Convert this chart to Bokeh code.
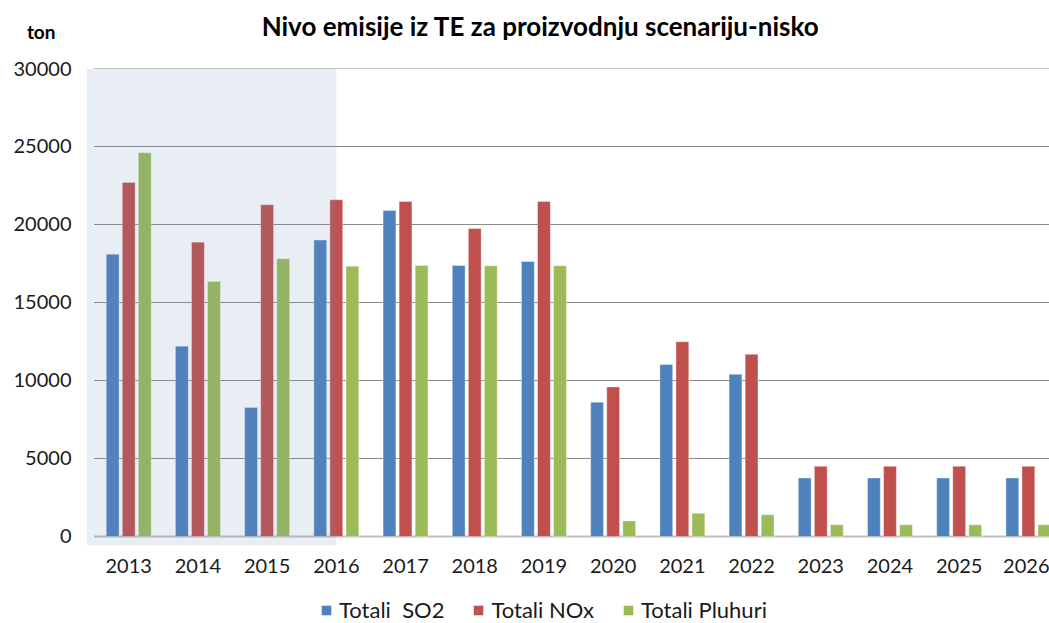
from bokeh.plotting import figure
from bokeh.models import (Range1d, FixedTicker, BoxAnnotation, Legend, LegendItem,
                          ColumnDataSource)
from bokeh.layouts import column
from bokeh.embed import file_html
from bokeh.resources import INLINE
from bokeh.core.properties import value

years = ["2013", "2014", "2015", "2016", "2017", "2018", "2019",
         "2020", "2021", "2022", "2023", "2024", "2025", "2026"]
so2 = [18100, 12200, 8270, 19000, 20900, 17370, 17630,
       8610, 11020, 10400, 3750, 3750, 3750, 3750]
nox = [22700, 18870, 21260, 21580, 21470, 19740, 21470,
       9590, 12490, 11680, 4500, 4500, 4500, 4500]
pluhuri = [24600, 16350, 17800, 17330, 17370, 17350, 17350,
           1000, 1490, 1390, 750, 750, 750, 750]
series_names = ["Totali  SO2", "Totali NOx", "Totali Pluhuri"]
series_colors = ["#4F81BD", "#C0504D", "#9BBB59"]
y_ticks = [0, 5000, 10000, 15000, 20000, 25000, 30000]
title_text = "Nivo emisije iz TE za proizvodnju scenariju-nisko"
unit_text = "ton"
shaded_years = ["2013", "2014", "2015", "2016"]

FONT = "Lato"
TXT = "#1a1a1a"
W = 1049
LEFT = 86
xs = list(range(len(years)))

# ---- header strip: title and unit ----
head = figure(width=W, height=48, output_backend="svg", toolbar_location=None,
              x_range=Range1d(LEFT, W), y_range=Range1d(48, 0),
              x_axis_type=None, min_border=0, min_border_left=LEFT)
head.outline_line_color = None
head.xgrid.grid_line_color = None
head.ygrid.grid_line_color = None
head.text(x=[540], y=[25], text=[title_text], text_font=value(FONT), text_font_style="bold",
          text_font_size="26px", text_align="center", text_baseline="middle", text_color="#000000")
# unit shown as the single label of the header's left axis
head.yaxis.ticker = FixedTicker(ticks=[31])
head.yaxis.major_label_overrides = {31: unit_text}
head.yaxis.axis_line_color = None
head.yaxis.major_tick_line_color = None
head.yaxis.minor_tick_line_color = None
head.yaxis.major_tick_out = 0
head.yaxis.major_label_standoff = 31
head.yaxis.major_label_text_font = FONT
head.yaxis.major_label_text_font_style = "bold"
head.yaxis.major_label_text_font_size = "19px"
head.yaxis.major_label_text_color = "#000000"

# ---- main chart ----
p = figure(width=W, height=542, output_backend="svg", toolbar_location=None,
           x_range=Range1d(-0.61, 13.305), y_range=Range1d(-577, 30000),
           min_border_left=LEFT, min_border_right=0, min_border_top=20, min_border_bottom=45)
p.outline_line_color = None
p.xgrid.grid_line_color = None
p.ygrid.grid_line_color = None

p.segment(x0=-0.5, x1=14, y0=y_ticks[1:], y1=y_ticks[1:], line_color="#8A8A8A", line_width=1)
p.segment(x0=-0.5, x1=14, y0=[0], y1=[0], line_color="#BDBDBD", line_width=2)

offsets = [-0.232, 0.0, 0.232]
w = 0.185
for vals, off, col in zip([so2, nox, pluhuri], offsets, series_colors):
    src = ColumnDataSource(dict(x=[i + off for i in xs], top=vals))
    p.vbar(x="x", top="top", bottom=0, width=w, source=src, fill_color=col,
           line_color="white", line_alpha=0.35, line_width=1)

p.add_layout(BoxAnnotation(left=-0.61, right=years.index(shaded_years[-1]), bottom=-577, top=30000,
                           fill_color=(108, 135, 182), fill_alpha=0.15, line_color=None))

p.yaxis.ticker = FixedTicker(ticks=y_ticks)
p.yaxis.axis_line_color = None
p.yaxis.major_tick_line_color = None
p.yaxis.minor_tick_line_color = None
p.yaxis.major_tick_out = 0
p.yaxis.major_label_text_font = FONT
p.yaxis.major_label_text_font_size = "20px"
p.yaxis.major_label_text_color = TXT
p.yaxis.major_label_standoff = 15

p.xaxis.ticker = FixedTicker(ticks=xs)
p.xaxis.major_label_overrides = {i: y for i, y in enumerate(years)}
p.xaxis.axis_line_color = None
p.xaxis.major_tick_line_color = None
p.xaxis.minor_tick_line_color = None
p.xaxis.major_label_text_font = FONT
p.xaxis.major_label_text_font_size = "20px"
p.xaxis.major_label_text_color = TXT
p.xaxis.major_label_standoff = 7

# ---- legend strip ----
foot = figure(width=W, height=33, output_backend="svg", toolbar_location=None,
              x_range=Range1d(0, 1), y_range=Range1d(0, 1),
              x_axis_type=None, y_axis_type=None, min_border=0, min_border_left=LEFT)
foot.outline_line_color = None
foot.xgrid.grid_line_color = None
foot.ygrid.grid_line_color = None
items = []
for name, col in zip(series_names, series_colors):
    # zero-size swatch carrier for the legend
    r = foot.vbar(x=[0], top=[0], bottom=[0], width=0, fill_color=col, line_color=None)
    items.append(LegendItem(label=name, renderers=[r]))
legend = Legend(items=items, orientation="horizontal", location=(320 - LEFT, 0), padding=0, margin=0,
                spacing=28, label_standoff=7, glyph_width=12, glyph_height=12,
                label_text_font=FONT, label_text_font_size="22px", label_text_color=TXT,
                border_line_color=None, background_fill_alpha=0)
foot.add_layout(legend, "center")

layout = column(head, p, foot, spacing=0)
open("out.html", "w").write(file_html(layout, INLINE))
